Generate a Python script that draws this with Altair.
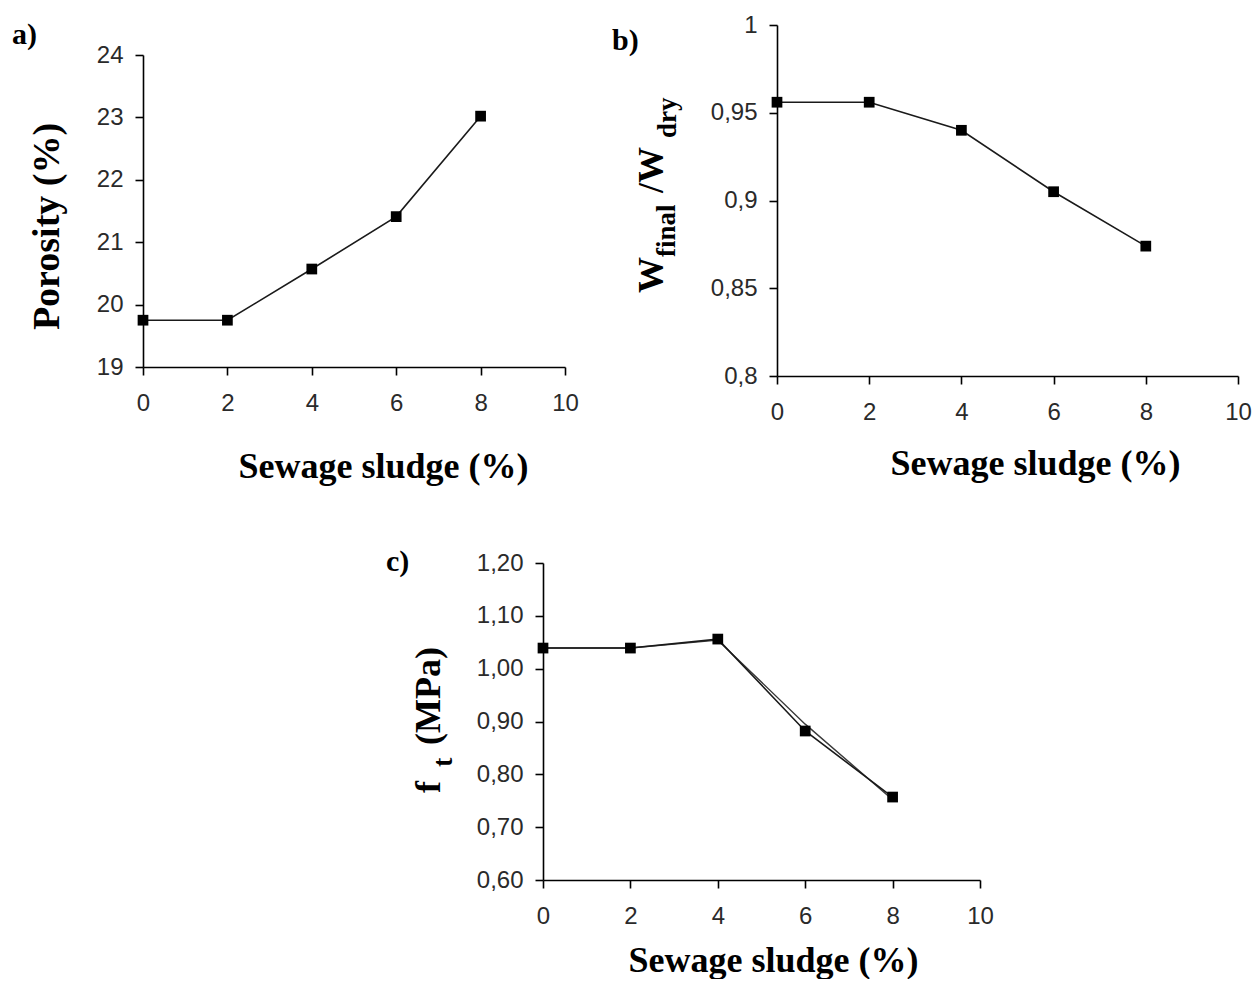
import altair as alt
import pandas as pd

# ---------------- data ----------------
sludge = [0, 2, 4, 6, 8]
porosity = [19.75, 19.75, 20.57, 21.41, 23.02]
w_ratio = [0.956, 0.956, 0.940, 0.905, 0.874]
ft_main = [1.039, 1.039, 1.056, 0.882, 0.757]
ft_second = [1.039, 1.039, 1.054, 0.895, 0.752]

x_ticks = [0, 2, 4, 6, 8, 10]
a_ticks = [19, 20, 21, 22, 23, 24]
b_ticks = [0.8, 0.85, 0.9, 0.95, 1.0]
c_ticks = [0.6, 0.7, 0.8, 0.9, 1.0, 1.1, 1.2]

x_title = "Sewage sludge (%)"
a_ytitle = "Porosity (%)"
panel_tags = ["a)", "b)", "c)"]
b_title_parts = ["W", "final", "/W", "dry"]
c_title_parts = ["f", "t", "(MPa)"]

W, H = 1244, 971

df_a = pd.DataFrame({"x": sludge, "v": porosity})
df_b = pd.DataFrame({"x": sludge, "v": w_ratio})
df_c1 = pd.DataFrame({"x": sludge, "v": ft_main})
df_c2 = pd.DataFrame({"x": sludge, "v": ft_second})

SERIF = "Liberation Serif"
LINE = "#1a1a1a"


def x_axis(offset, tx, ty):
    return alt.Axis(orient="bottom", offset=offset, values=x_ticks, format="d",
                    title=x_title, titleX=tx, titleY=ty, titleAlign="center",
                    titleBaseline="alphabetic", labelPadding=16,
                    labelFlush=False, labelOverlap=False)


def y_axis(offset, values, expr, title="", tx=0, ty=0, tsize=36):
    return alt.Axis(orient="left", offset=offset, values=values, labelExpr=expr,
                    title=title, titleX=tx, titleY=ty, titleAngle=270,
                    titleAlign="center", titleBaseline="alphabetic", titleFontSize=tsize,
                    labelPadding=12, labelOverlap=False, labelFlush=False)


point = alt.OverlayMarkDef(shape="square", size=115, filled=True, color="black", opacity=1)

# ---------------- panel a ----------------
xa = alt.X("x:Q", scale=alt.Scale(domain=[0, 10], range=[135, 557], nice=False, zero=False),
           axis=x_axis(359 - H, 375, 110))
ya = alt.Y("v:Q", scale=alt.Scale(domain=[19, 24], range=[359, 47], nice=False, zero=False),
           axis=y_axis(-135, a_ticks, "format(datum.value, 'd')", a_ytitle, -85, 218, 38))
panel_a = alt.Chart(df_a).mark_line(color=LINE, strokeWidth=1.6, point=point).encode(x=xa, y=ya)

# ---------------- panel b ----------------
xb = alt.X("x:Q", scale=alt.Scale(domain=[0, 10], range=[769, 1230], nice=False, zero=False),
           axis=x_axis(368 - H, 1027, 98))
yb = alt.Y("v:Q", scale=alt.Scale(domain=[0.8, 1.0], range=[368, 17], nice=False, zero=False),
           axis=y_axis(-769, b_ticks, "replace(toString(datum.value), '.', ',')"))
panel_b = alt.Chart(df_b).mark_line(color=LINE, strokeWidth=1.6, point=point).encode(x=xb, y=yb)

# ---------------- panel c ----------------
xc = alt.X("x:Q", scale=alt.Scale(domain=[0, 10], range=[535, 972], nice=False, zero=False),
           axis=x_axis(872 - H, 765, 91))
yc = alt.Y("v:Q", scale=alt.Scale(domain=[0.6, 1.2], range=[872, 555], nice=False, zero=False),
           axis=y_axis(-535, c_ticks, "replace(format(datum.value, '.2f'), '.', ',')"))
panel_c = alt.layer(
    alt.Chart(df_c2).mark_line(color="#3a3a3a", strokeWidth=1.4).encode(x=xc, y=yc),
    alt.Chart(df_c1).mark_line(color=LINE, strokeWidth=1.6, point=point).encode(x=xc, y=yc),
)


# ---------------- annotations ----------------
def label(text, x, y, size, angle=0):
    kw = dict(font=SERIF, fontWeight="bold", fontSize=size, align="left",
              baseline="alphabetic", color="black", x=x, y=y)
    if angle:
        kw["angle"] = angle
    return alt.Chart(pd.DataFrame({"label": [text]})).mark_text(**kw).encode(text="label:N")


tags = [
    label(panel_tags[0], 4, 36, 30),
    label(panel_tags[1], 604, 42, 30),
    label(panel_tags[2], 378, 563, 30),
]
b_title = [
    label(b_title_parts[0], 655, 285, 36, 270),
    label(b_title_parts[1], 667, 249, 27, 270),
    label(b_title_parts[2], 655, 185, 36, 270),
    label(b_title_parts[3], 668, 130, 27, 270),
]
c_title = [
    label(c_title_parts[0], 432, 785, 36, 270),
    label(c_title_parts[1], 444, 759, 28, 270),
    label(c_title_parts[2], 432, 737, 36, 270),
]

chart = alt.layer(panel_a, panel_b, panel_c, *tags, *b_title, *c_title).resolve_scale(
    x="independent", y="independent"
).resolve_axis(
    x="independent", y="independent"
).properties(
    width=W, height=H, padding=0, autosize=alt.AutoSizeParams(type="none"),
    background="white",
).configure_axis(
    grid=False, domainColor="black", domainWidth=1.6, tickColor="black", tickWidth=1.6,
    tickSize=8, labelFont="Liberation Sans", labelFontSize=24, labelColor="#2a2a2a",
    titleFont=SERIF, titleFontSize=36, titleFontWeight="bold", titleColor="black",
).configure_view(stroke="transparent")

chart.save("out.html", embed_options={"renderer": "svg", "actions": False})
